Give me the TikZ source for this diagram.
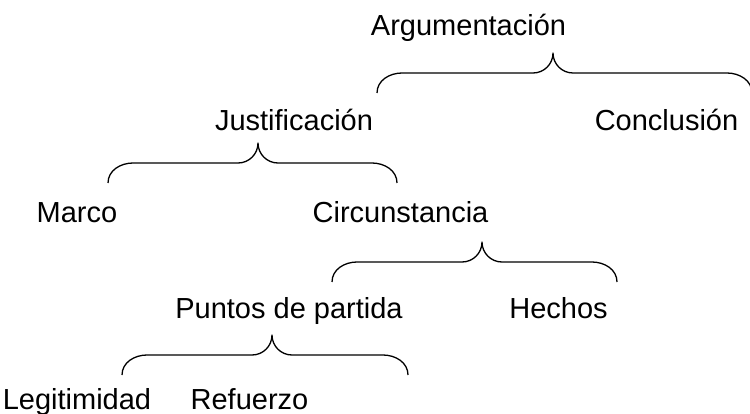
\documentclass[tikz,border=0pt]{standalone}
\usepackage{fontspec}
\setmainfont{Liberation Sans}
\begin{document}
\begin{tikzpicture}[x=1pt,y=-1pt,
  lbl/.style={anchor=base,inner sep=0pt,font=\fontsize{29}{34}\selectfont},
  brace/.style={line width=1.3pt,line join=round}]
\useasboundingbox (0,0) rectangle (750,414);
% labels
\node[lbl] (arg) at (468.5,36) {Argumentación};
\node[lbl] (jus) at (294,131) {Justificación};
\node[lbl] (con) at (666.5,131) {Conclusión};
\node[lbl] (mar) at (77,223) {Marco};
\node[lbl] (cir) at (400.5,223) {Circunstancia};
\node[lbl] (pun) at (289,319) {Puntos de partida};
\node[lbl] (hec) at (558.5,319) {Hechos};
\node[lbl] (leg) at (77,409) {Legitimidad};
\node[lbl] (ref) at (249.5,409) {Refuerzo};
% braces: #1 left x, #2 right x, #3 cusp x, #4 cusp y (angles are page angles)
\newcommand\mybrace[4]{%
  \draw[brace] (#1,#4+40) to[out=90,in=180] (#1+25,#4+20)
    -- (#3-20,#4+20) to[out=0,in=-90] (#3,#4)
    to[out=-90,in=180] (#3+20,#4+20) -- (#2-25,#4+20)
    to[out=0,in=90] (#2,#4+40);}
\mybrace{377}{752}{553}{53}
\mybrace{108}{397}{258}{143}
\mybrace{332}{617}{482}{242}
\mybrace{122}{408}{272}{335}
\end{tikzpicture}
\end{document}
